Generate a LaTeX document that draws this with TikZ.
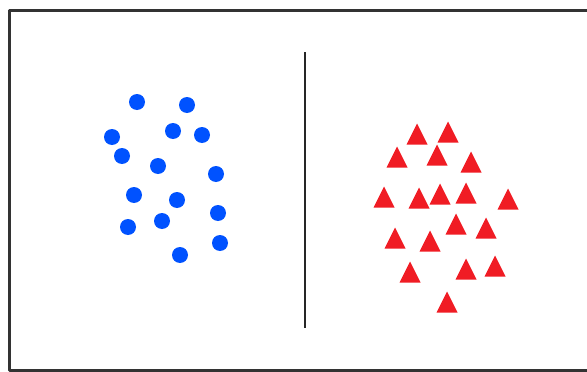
\documentclass[tikz,border=0pt]{standalone}
\definecolor{dotblue}{RGB}{0,82,255}
\definecolor{trired}{RGB}{240,28,36}
\begin{document}
\begin{tikzpicture}[x=1pt,y=-1pt, line join=round,
		dot/.style={circle,fill=dotblue,inner sep=0pt,minimum size=16pt}]
			\useasboundingbox (0,0) rectangle (587,372);
			% frame, open on the right
			\draw[line width=3pt,black!80] (587,10)--(9,10)--(9,370)--(587,370);
			% divider
			\coordinate (top) at (305,52); \coordinate (bot) at (305,328);
			\draw[line width=2.8pt,black!85] (top)--(bot);
			% class one
			\foreach \x/\y [count=\i] in {137/102,187/105,112/137,173/131,202/135,122/156,158/166,216/174,
				134/195,177/200,218/213,128/227,162/221,220/243,180/255}
				\node[dot] (dot\i) at (\x,\y) {};
			% class two
			\foreach \x/\y [count=\i] in {417/134,448/132,397/157,437/155,471/162,384/197,419/198,440/194,466/193,
				508/199,456/224,486/228,395/238,430/241,410/272,466/269,495/266,447/302}
				{\coordinate (tri\i) at (\x,\y);
				\fill[trired] (tri\i) ++(-10.5,10.5) -- ++(21,0) -- ++(-10.5,-21) -- cycle;}
		\end{tikzpicture}
\end{document}
